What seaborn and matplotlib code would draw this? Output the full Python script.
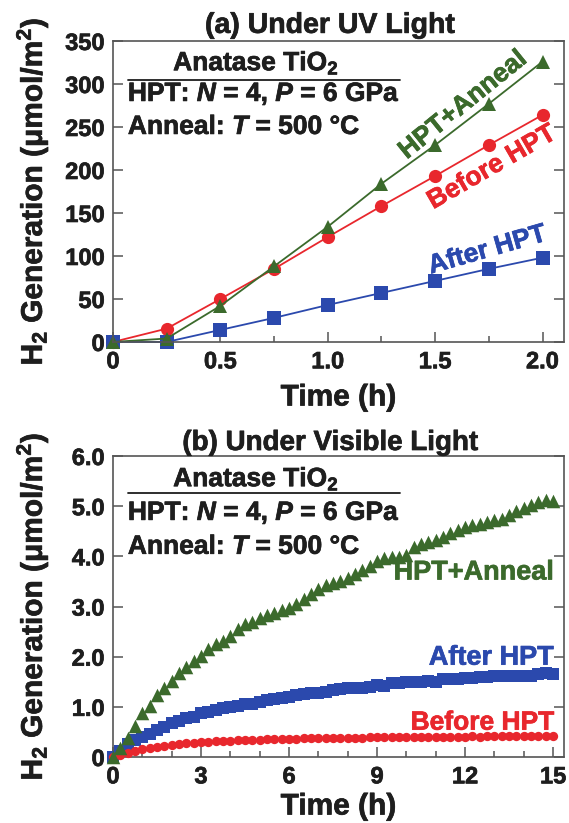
import numpy as np
import pandas as pd
import matplotlib
matplotlib.use("Agg")
import matplotlib.pyplot as plt
import matplotlib.patheffects as pe
from matplotlib.ticker import MultipleLocator, FixedLocator
import seaborn as sns

# ---------------- data ----------------
uv_time = [0, 0.25, 0.5, 0.75, 1.0, 1.25, 1.5, 1.75, 2.0]
uv_before = [0, 15.5, 50, 85, 122, 158, 193, 229, 264]
uv_after = [0, 0, 14, 28, 43, 57, 71, 85, 98]
uv_anneal = [0, 4, 42, 88, 134, 184, 229, 277, 326]

vis_time = [0, 0.25, 0.5, 0.75, 1.0, 1.25, 1.5, 1.75, 2.0, 2.25, 2.5, 2.75,
            3.0, 3.25, 3.5, 3.75, 4.0, 4.25, 4.5, 4.75, 5.0, 5.25, 5.5, 5.75,
            6.0, 6.25, 6.5, 6.75, 7.0, 7.25, 7.5, 7.75, 8.0, 8.25, 8.5, 8.75,
            9.0, 9.25, 9.5, 9.75, 10.0, 10.25, 10.5, 10.75, 11.0, 11.25, 11.5, 11.75,
            12.0, 12.25, 12.5, 12.75, 13.0, 13.25, 13.5, 13.75, 14.0, 14.25, 14.5, 14.75,
            15.0]
vis_anneal = [0.00, 0.18, 0.38, 0.62, 0.88, 1.02, 1.24, 1.38, 1.52, 1.67, 1.80, 1.92,
              2.02, 2.15, 2.25, 2.32, 2.42, 2.55, 2.65, 2.70, 2.77, 2.83, 2.88, 2.93,
              2.97, 3.05, 3.15, 3.25, 3.35, 3.43, 3.47, 3.50, 3.57, 3.65, 3.72, 3.80,
              3.90, 3.97, 3.98, 3.98, 4.02, 4.18, 4.25, 4.28, 4.33, 4.38, 4.47, 4.52,
              4.58, 4.62, 4.65, 4.68, 4.72, 4.75, 4.82, 4.90, 4.97, 5.02, 5.08, 5.12,
              5.10]
vis_after = [0.00, 0.12, 0.25, 0.33, 0.40, 0.45, 0.54, 0.60, 0.67, 0.72, 0.77, 0.80,
             0.87, 0.90, 0.93, 0.98, 1.00, 1.02, 1.05, 1.05, 1.10, 1.13, 1.15, 1.17,
             1.20, 1.23, 1.25, 1.28, 1.27, 1.30, 1.33, 1.36, 1.37, 1.37, 1.38, 1.40,
             1.43, 1.42, 1.47, 1.48, 1.49, 1.50, 1.50, 1.52, 1.50, 1.55, 1.55, 1.56,
             1.58, 1.57, 1.59, 1.60, 1.62, 1.61, 1.62, 1.62, 1.61, 1.62, 1.65, 1.67,
             1.65]
vis_before = [0.00, 0.04, 0.08, 0.12, 0.15, 0.18, 0.20, 0.22, 0.24, 0.25, 0.27, 0.28,
              0.29, 0.30, 0.31, 0.31, 0.32, 0.33, 0.33, 0.34, 0.34, 0.35, 0.35, 0.35,
              0.36, 0.36, 0.37, 0.37, 0.37, 0.37, 0.38, 0.38, 0.38, 0.38, 0.38, 0.39,
              0.39, 0.39, 0.39, 0.39, 0.40, 0.40, 0.40, 0.40, 0.40, 0.40, 0.40, 0.40,
              0.40, 0.41, 0.40, 0.41, 0.41, 0.41, 0.41, 0.41, 0.41, 0.41, 0.41, 0.41,
              0.41]

series_names = ["Before HPT", "After HPT", "HPT+Anneal"]
colors = {"Before HPT": "#e8272d", "After HPT": "#2b49ad", "HPT+Anneal": "#3b6a2c"}
markers = {"Before HPT": "o", "After HPT": "s", "HPT+Anneal": "^"}

uv_df = pd.DataFrame({
    "t": uv_time * 3,
    "h2": uv_before + uv_after + uv_anneal,
    "s": ["Before HPT"] * len(uv_time) + ["After HPT"] * len(uv_time) + ["HPT+Anneal"] * len(uv_time),
})
vis_df = pd.DataFrame({
    "t": vis_time * 3,
    "h2": vis_before + vis_after + vis_anneal,
    "s": ["Before HPT"] * len(vis_time) + ["After HPT"] * len(vis_time) + ["HPT+Anneal"] * len(vis_time),
})

# ---------------- style ----------------
sns.set_theme(style="ticks")
plt.rcParams["font.family"] = ["Liberation Sans", "DejaVu Sans"]
plt.rcParams["font.weight"] = "bold"
plt.rcParams["mathtext.fontset"] = "custom"
plt.rcParams["mathtext.rm"] = "Liberation Sans:bold"
plt.rcParams["mathtext.bf"] = "Liberation Sans:bold"
plt.rcParams["mathtext.it"] = "Liberation Sans:italic:bold"
plt.rcParams["mathtext.default"] = "regular"

TXT = "#1e1e1e"
SPINE = "#555555"


def heavy(color):
    return [pe.withStroke(linewidth=0.5, foreground=color)]


fig = plt.figure(figsize=(5.69, 8.23), dpi=100)
axA = fig.add_axes([0.1986, 0.5845, 0.7926, 0.3657])
axB = fig.add_axes([0.1986, 0.0802, 0.7926, 0.3657])

# panel (a)
sns.lineplot(data=uv_df, x="t", y="h2", hue="s", style="s", hue_order=series_names,
             style_order=series_names, palette=colors, markers=markers, dashes=False,
             markersize=9.5, markeredgewidth=0, linewidth=1.3, legend=False, ax=axA,
             clip_on=False)
# panel (b)
msize = {"Before HPT": 45, "After HPT": 72, "HPT+Anneal": 95}
for name, sub in vis_df.groupby("s"):
    sns.scatterplot(data=sub, x="t", y="h2", color=colors[name], marker=markers[name],
                    s=msize[name], linewidth=0, legend=False, ax=axB, zorder=3,
                    clip_on=False)

for ax, xly in ((axA, -0.138), (axB, -0.118)):
    for sp in ax.spines.values():
        sp.set_color(SPINE)
        sp.set_linewidth(1.2)
        sp.set_visible(True)
    ax.tick_params(which="both", direction="in", right=True, top=False,
                   color=SPINE, labelcolor=TXT, width=1.1, pad=6)
    ax.tick_params(which="major", length=7)
    ax.tick_params(which="minor", length=4)
    xl = ax.set_xlabel("Time (h)", fontsize=21.5, fontweight="bold", color=TXT)
    yl = ax.set_ylabel("H$_2$ Generation (\u03bcmol/m$^2$)", fontsize=21.5,
                       fontweight="bold", color=TXT)
    xl.set_path_effects(heavy(TXT))
    yl.set_path_effects(heavy(TXT))
    ax.xaxis.set_label_coords(0.5, xly)
    ax.yaxis.set_label_coords(-0.14, 0.5)

axA.set_xlim(0, 2.1)
axA.set_ylim(0, 350)
axA.xaxis.set_major_locator(FixedLocator([0, 0.5, 1.0, 1.5, 2.0]))
axA.set_xticklabels(["0", "0.5", "1.0", "1.5", "2.0"])
axA.xaxis.set_minor_locator(MultipleLocator(0.25))
axA.yaxis.set_major_locator(FixedLocator([0, 50, 100, 150, 200, 250, 300, 350]))
axA.set_yticklabels(["0", "50", "100", "150", "200", "250", "300", "350"])

axB.set_xlim(0, 15.37)
axB.set_ylim(0, 6.0)
axB.xaxis.set_major_locator(FixedLocator([0, 3, 6, 9, 12, 15]))
axB.set_xticklabels(["0", "3", "6", "9", "12", "15"])
axB.xaxis.set_minor_locator(MultipleLocator(1))
axB.yaxis.set_major_locator(FixedLocator([0, 1, 2, 3, 4, 5, 6]))
axB.set_yticklabels(["0", "1.0", "2.0", "3.0", "4.0", "5.0", "6.0"])

for ax in (axA, axB):
    for lab in ax.get_xticklabels() + ax.get_yticklabels():
        lab.set_fontweight("bold")
        lab.set_fontsize(17)
        lab.set_color(TXT)
        lab.set_path_effects(heavy(TXT))

# titles
axA.text(0.481, 1.027, "(a) Under UV Light", transform=axA.transAxes, ha="center",
         va="baseline", fontsize=20.5, fontweight="bold", color=TXT,
         path_effects=heavy(TXT))
axB.text(0.481, 1.02, "(b) Under Visible Light", transform=axB.transAxes, ha="center",
         va="baseline", fontsize=20, fontweight="bold", color=TXT,
         path_effects=heavy(TXT))


# info boxes
def info(ax, ys):
    y0, yline, y1, y2 = ys
    ax.text(0.317, y0, "Anatase TiO$_2$", transform=ax.transAxes, ha="center",
            va="center", fontsize=19, fontweight="bold", color=TXT,
            path_effects=heavy(TXT))
    ax.plot([0.033, 0.636], [yline, yline], transform=ax.transAxes, color=TXT,
            lw=1.3, clip_on=False)
    ax.text(0.033, y1, "HPT: $\\mathit{N}$ = 4, $\\mathit{P}$ = 6 GPa", transform=ax.transAxes,
            ha="left", va="center", fontsize=19, fontweight="bold", color=TXT,
            path_effects=heavy(TXT))
    ax.text(0.033, y2, "Anneal: $\\mathit{T}$ = 500 \u00b0C", transform=ax.transAxes,
            ha="left", va="center", fontsize=19, fontweight="bold", color=TXT,
            path_effects=heavy(TXT))


info(axA, (0.927, 0.870, 0.824, 0.714))
info(axB, (0.924, 0.877, 0.811, 0.698))

# series labels (a)
axA.text(0.776, 0.787, "HPT+Anneal", transform=axA.transAxes, rotation=39,
         rotation_mode="anchor", ha="center", va="center", fontsize=19,
         fontweight="bold", color=colors["HPT+Anneal"], path_effects=heavy(colors["HPT+Anneal"]))
axA.text(0.840, 0.580, "Before HPT", transform=axA.transAxes, rotation=30,
         rotation_mode="anchor", ha="center", va="center", fontsize=19,
         fontweight="bold", color=colors["Before HPT"], path_effects=heavy(colors["Before HPT"]))
axA.text(0.830, 0.305, "After HPT", transform=axA.transAxes, rotation=16,
         rotation_mode="anchor", ha="center", va="center", fontsize=19,
         fontweight="bold", color=colors["After HPT"], path_effects=heavy(colors["After HPT"]))

# series labels (b)
axB.text(0.978, 0.613, "HPT+Anneal", transform=axB.transAxes, ha="right",
         va="center", fontsize=19.5, fontweight="bold", color=colors["HPT+Anneal"],
         path_effects=heavy(colors["HPT+Anneal"]))
axB.text(0.978, 0.330, "After HPT", transform=axB.transAxes, ha="right",
         va="center", fontsize=19.5, fontweight="bold", color=colors["After HPT"],
         path_effects=heavy(colors["After HPT"]))
axB.text(0.978, 0.114, "Before HPT", transform=axB.transAxes, ha="right",
         va="center", fontsize=19, fontweight="bold", color=colors["Before HPT"],
         path_effects=heavy(colors["Before HPT"]))

fig.savefig("out.png", dpi=100)
